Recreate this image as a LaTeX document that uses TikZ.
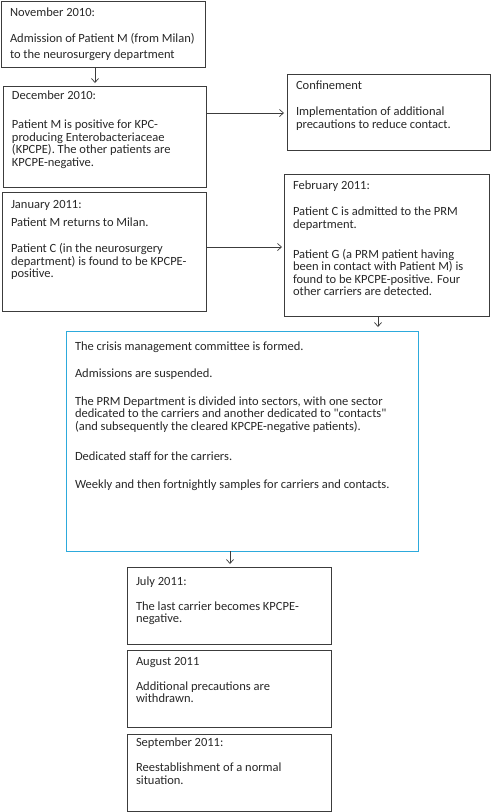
\documentclass[tikz,border=0pt]{standalone}
\usepackage{fontspec}
\setmainfont{Carlito}[Ligatures=TeXOff]
\usetikzlibrary{arrows.meta}
\definecolor{frame}{RGB}{60,60,60}
\definecolor{cyanframe}{RGB}{45,170,220}
\definecolor{txt}{RGB}{40,40,40}
\newcommand\tb[4]{\parbox[c][#2pt][t]{#1pt}{\raggedright\fontsize{12.5}{12.5}\selectfont\vspace*{#3pt}\rule{0pt}{10pt}#4}}
\newcommand\np[1]{\par\vspace{#1pt}}
\begin{document}
\begin{tikzpicture}[x=1pt,y=-1pt,
  box/.style={draw=frame, line width=0.8pt, inner xsep=9pt, inner ysep=0pt, outer sep=0pt, anchor=north west, text=txt},
  cbox/.style={box, draw=cyanframe},
  arr/.style={draw=frame, line width=0.7pt, -{Straight Barb[length=4pt,width=7pt]}}]
\useasboundingbox (0,0) rectangle (492,812);
\fill[white] (0,0) rectangle (492,812);
\node[box] (b1) at (1,1) {\tb{186}{66}{5.8}{November 2010:\np{13.5}Admission of Patient M (from Milan)\\[3.2pt]to the neurosurgery department}};
\node[box] (b2) at (3,86) {\tb{185}{101}{3.5}{December 2010:\np{16.8}Patient M is positive for KPC-\\producing Enterobacteriaceae\\(KPCPE). The other patients are\\KPCPE-negative.}};
\node[box] (conf) at (287,74) {\tb{185}{76}{5.5}{Confinement\np{13.5}Implementation of additional\\precautions to reduce contact.}};
\node[box] (jan) at (2,192) {\tb{186}{119}{6.5}{January 2011:\np{5.8}Patient M returns to Milan.\np{13.2}Patient C (in the neurosurgery\\department) is found to be KPCPE-\\positive.}};
\node[box] (feb) at (284,174) {\tb{187}{142}{5.5}{February 2011:\np{13.8}Patient C is admitted to the PRM\\department.\np{17.2}Patient G (a PRM patient having\\been in contact with Patient M) is\\found to be KPCPE-positive. Four\\other carriers are detected.}};
\node[cbox] (crisis) at (66,331) {\tb{334}{220}{9.2}{The crisis management committee is formed.\np{14.8}Admissions are suspended.\np{15.2}The PRM Department is divided into sectors, with one sector\\dedicated to the carriers and another dedicated to "contacts"\\(and subsequently the cleared KPCPE-negative patients).\np{18.2}Dedicated staff for the carriers.\np{15.2}Weekly and then fortnightly samples for carriers and contacts.}};
\node[box] (july) at (127,567) {\tb{186}{77}{8.2}{July 2011:\np{12.5}The last carrier becomes KPCPE-\\negative.}};
\node[box] (aug) at (127,650) {\tb{186}{77}{5.5}{August 2011\np{12.2}Additional precautions are\\withdrawn.}};
\node[box] (sep) at (127,734) {\tb{186}{77}{2.8}{September 2011:\np{12.5}Reestablishment of a normal\\situation.}};
\draw[arr, shorten >=3pt] (95,0 |- b1.south) -- (95,0 |- b2.north);
\draw[arr, shorten >=3pt] (b2.east |- 0,113) -- (conf.west |- 0,113);
\draw[arr, shorten >=2pt] (jan.east |- 0,247) -- (feb.west |- 0,247);
\draw[arr, shorten >=4pt] (378,0 |- feb.south) -- (378,0 |- crisis.north);
\draw[arr, shorten >=3pt] (230,0 |- crisis.south) -- (230,0 |- july.north);
\end{tikzpicture}
\end{document}
